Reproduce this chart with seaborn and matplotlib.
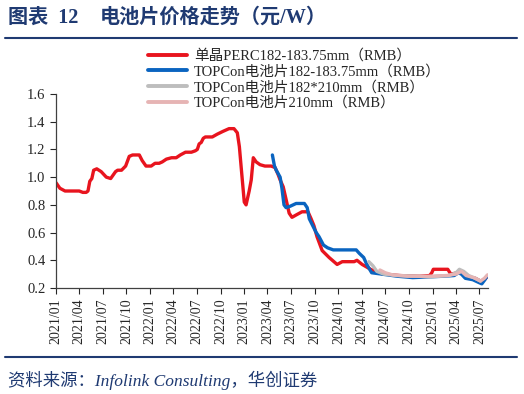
import pandas as pd
import seaborn as sns
import matplotlib.pyplot as plt
import matplotlib.dates as mdates
from matplotlib.lines import Line2D

# ------------------------------
# data (RMB/W)
# ------------------------------
perc_dates = ["2021-01-01", "2021-01-16", "2021-02-05", "2021-04-01", "2021-04-15", "2021-04-28",
              "2021-05-05", "2021-05-12", "2021-05-20", "2021-05-27", "2021-06-08", "2021-06-25",
              "2021-07-15", "2021-08-01", "2021-08-20", "2021-08-28", "2021-09-12", "2021-09-28",
              "2021-10-12", "2021-10-25", "2021-11-20", "2021-12-01", "2021-12-16", "2022-01-05",
              "2022-01-20", "2022-02-05", "2022-02-17", "2022-03-05", "2022-03-25", "2022-04-12",
              "2022-04-28", "2022-05-18", "2022-06-10", "2022-06-25", "2022-07-03", "2022-07-10",
              "2022-07-18", "2022-07-26", "2022-08-03", "2022-08-30", "2022-09-18", "2022-10-10",
              "2022-11-03", "2022-11-22", "2022-12-05", "2022-12-13", "2022-12-21", "2023-01-01",
              "2023-01-08", "2023-01-20", "2023-01-28", "2023-02-05", "2023-02-16", "2023-03-03",
              "2023-03-22", "2023-04-15", "2023-04-30", "2023-05-12", "2023-05-20", "2023-06-01",
              "2023-06-12", "2023-06-24", "2023-07-05", "2023-07-24", "2023-08-13", "2023-09-05",
              "2023-09-17", "2023-09-28", "2023-10-10", "2023-10-30", "2023-11-26", "2023-12-27",
              "2024-01-16", "2024-03-02", "2024-03-13", "2024-04-02", "2024-04-30", "2024-05-30",
              "2024-07-01", "2024-08-24", "2024-11-10", "2024-12-20", "2024-12-28", "2025-01-03",
              "2025-02-28", "2025-03-12", "2025-04-06", "2025-04-22", "2025-05-15", "2025-06-15",
              "2025-07-05", "2025-07-20", "2025-08-01"]
perc_vals = [0.96, 0.92, 0.90, 0.90, 0.89, 0.89,
             0.90, 0.97, 0.99, 1.05, 1.06, 1.04,
             1.00, 0.99, 1.04, 1.05, 1.05, 1.08,
             1.15, 1.16, 1.16, 1.12, 1.08, 1.08,
             1.10, 1.10, 1.11, 1.13, 1.14, 1.14,
             1.16, 1.18, 1.18, 1.19, 1.20, 1.24,
             1.25, 1.28, 1.29, 1.29, 1.31, 1.33,
             1.35, 1.35, 1.32, 1.22, 1.05, 0.82,
             0.80, 0.90, 0.98, 1.14, 1.11, 1.09,
             1.08, 1.08, 1.07, 1.02, 0.98, 0.93,
             0.84, 0.74, 0.71, 0.73, 0.75, 0.75,
             0.70, 0.65, 0.57, 0.47, 0.42, 0.37,
             0.39, 0.39, 0.40, 0.37, 0.34, 0.31,
             0.30, 0.29, 0.285, 0.29, 0.31, 0.335,
             0.335, 0.30, 0.31, 0.32, 0.28, 0.27,
             0.25, 0.26, 0.285]

topcon_dates = ["2023-04-20", "2023-04-28", "2023-05-05", "2023-05-20", "2023-05-27", "2023-06-04",
                "2023-06-12", "2023-06-28", "2023-07-21", "2023-08-22", "2023-09-02", "2023-09-10",
                "2023-09-26", "2023-10-07", "2023-10-18", "2023-11-04", "2023-11-20", "2023-12-12",
                "2024-03-10", "2024-03-22", "2024-04-08", "2024-04-20", "2024-05-09", "2024-05-29",
                "2024-07-08", "2024-08-16", "2024-10-15", "2024-12-15", "2025-02-12", "2025-03-25",
                "2025-04-10", "2025-04-22", "2025-05-07", "2025-06-05", "2025-06-28", "2025-07-10",
                "2025-07-22", "2025-08-01"]
topcon_vals = [1.16, 1.08, 1.05, 1.00, 0.92, 0.80,
               0.78, 0.79, 0.81, 0.81, 0.78, 0.70,
               0.64, 0.60, 0.57, 0.51, 0.49, 0.475,
               0.475, 0.45, 0.42, 0.37, 0.31, 0.305,
               0.295, 0.285, 0.275, 0.28, 0.285, 0.29,
               0.31, 0.30, 0.27, 0.26, 0.24, 0.23,
               0.26, 0.29]

t182_dates = ["2024-04-28", "2024-05-14", "2024-05-29", "2024-06-25", "2024-08-16", "2024-11-05",
              "2024-12-20", "2025-01-25", "2025-03-05", "2025-04-01", "2025-04-14", "2025-05-01",
              "2025-05-20", "2025-06-15", "2025-07-05"]
t182_vals = [0.39, 0.36, 0.32, 0.30, 0.29, 0.285,
             0.28, 0.285, 0.29, 0.31, 0.335, 0.32,
             0.29, 0.27, 0.25]

t210_dates = ["2024-06-10", "2024-07-01", "2024-07-28", "2024-09-25", "2024-12-15", "2025-02-25",
              "2025-04-01", "2025-04-22", "2025-05-10", "2025-06-08", "2025-07-05", "2025-07-20",
              "2025-08-01"]
t210_vals = [0.33, 0.31, 0.295, 0.285, 0.285, 0.29,
             0.30, 0.32, 0.29, 0.275, 0.25, 0.27,
             0.295]

series_labels = ["单晶PERC182-183.75mm（RMB）",
                 "TOPCon电池片182-183.75mm（RMB）",
                 "TOPCon电池片182*210mm（RMB）",
                 "TOPCon电池片210mm（RMB）"]
series_colors = ["#E8141E", "#0A64C0", "#BDBDBD", "#E6B4B4"]

y_ticks = [0.2, 0.4, 0.6, 0.8, 1.0, 1.2, 1.4, 1.6]

# ------------------------------
# figure
# ------------------------------
sns.set_style("ticks")
serif = ["Liberation Serif", "Noto Sans CJK SC"]
plt.rcParams["font.family"] = serif

fig = plt.figure(figsize=(5.24, 3.94), dpi=100)
ax = fig.add_axes([56 / 524, 1 - 288 / 394, 432 / 524, 194 / 394])

all_series = [(perc_dates, perc_vals), (topcon_dates, topcon_vals),
              (t182_dates, t182_vals), (t210_dates, t210_vals)]
for (d, v), lab, col in zip(all_series, series_labels, series_colors):
    sns.lineplot(x=pd.to_datetime(d), y=v, ax=ax, color=col, linewidth=2.4, label=lab, legend=False)

ax.set_xlim(pd.Timestamp("2021-01-01"), pd.Timestamp("2025-08-03"))
ax.set_ylim(0.2, 1.6)
ax.set_yticks(y_ticks)
ax.yaxis.set_major_formatter(plt.FormatStrFormatter("%.1f"))
ax.xaxis.set_major_locator(mdates.MonthLocator(bymonth=[1, 4, 7, 10]))
ax.xaxis.set_major_formatter(mdates.DateFormatter("%Y/%m"))
ax.tick_params(axis="x", labelrotation=90, labelsize=10, length=4, width=0.8, direction="out")
ax.tick_params(axis="y", labelsize=10.5, length=4, width=0.8, direction="out")
ax.set_xlabel("")
ax.set_ylabel("")
for s in ["top", "right"]:
    ax.spines[s].set_visible(False)
for s in ["left", "bottom"]:
    ax.spines[s].set_color("#404040")
    ax.spines[s].set_linewidth(0.9)

handles = [Line2D([], [], color=c, linewidth=2.8) for c in series_colors]
fig.legend(handles, series_labels, loc="upper left", bbox_to_anchor=(148 / 524, 1 - 49 / 394),
           frameon=False, fontsize=10.5, handlelength=2.7, handletextpad=0.45,
           labelspacing=0.12, borderaxespad=0, borderpad=0)

# title, rules and source
navy = "#1F3A72"
fig.text(8 / 524, 1 - 18 / 394, "图表  12", fontsize=14.5,
         fontweight="bold", color=navy, va="center", ha="left",
         family=["Liberation Serif", "Noto Sans CJK SC"])
fig.text(100 / 524, 1 - 18 / 394, "电池片价格走势（元/W）", fontsize=14.5,
         fontweight="bold", color=navy, va="center", ha="left",
         family=["Liberation Serif", "Noto Sans CJK SC"])
fig.add_artist(Line2D([5 / 524, 517 / 524], [1 - 37.5 / 394] * 2, color=navy, linewidth=1.5))
fig.add_artist(Line2D([5 / 524, 517 / 524], [1 - 357 / 394] * 2, color=navy, linewidth=1.5))
fig.text(8 / 524, 1 - 380 / 394, "资料来源：Infolink Consulting，华创证券", fontsize=12.5,
         style="italic", color=navy, va="center", ha="left",
         family=["Liberation Serif", "Noto Sans CJK SC"])

fig.savefig("out.png", dpi=100)
